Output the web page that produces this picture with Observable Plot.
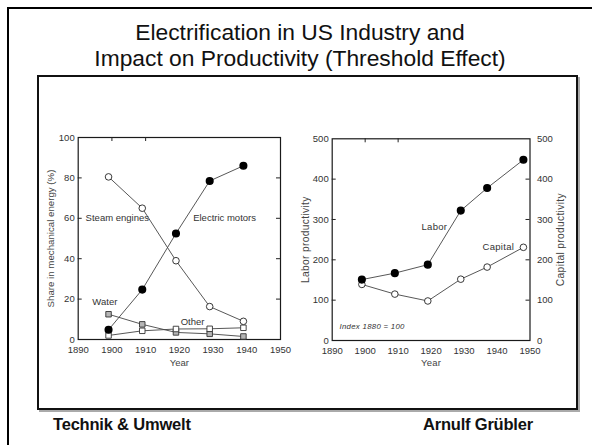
<!DOCTYPE html>
<html>
<head>
<meta charset="utf-8">
<script src="https://cdn.jsdelivr.net/npm/d3@7"></script>
<script src="https://cdn.jsdelivr.net/npm/@observablehq/plot@0.6"></script>
<style>
  body { margin: 0; background: #fff; }
  #page { position: relative; width: 592px; height: 445px; overflow: hidden; background: #fff;
          font-family: "Liberation Sans", Arial, sans-serif; color: #111; }
  .abs { position: absolute; }
  .title { left: 0; width: 600px; text-align: center; font-size: 22.8px; line-height: 26px; white-space: nowrap; }
  .foot { font-size: 16.5px; font-weight: bold; line-height: 18px; white-space: nowrap; letter-spacing: -0.2px; }
  #right svg g[aria-label="text"] text { letter-spacing: 0.3px; }
</style>
</head>
<body>
<div id="page">
  <div class="abs" style="left:7px;top:7px;width:700px;height:700px;border:2.5px solid #000;"></div>
  <div class="abs title" style="top:19px;">Electrification in US Industry and</div>
  <div class="abs title" style="top:45px;">Impact on Productivity (Threshold Effect)</div>
  <div class="abs" style="left:37px;top:75px;width:537px;height:331px;border:2px solid #111;box-shadow:2px 2px 0 #aaa;"></div>
  <div id="left" class="abs" style="left:40px;top:120px;"></div>
  <div id="right" class="abs" style="left:290px;top:120px;"></div>
  <div class="abs foot" style="left:53px;top:415px;">Technik &amp; Umwelt</div>
  <div class="abs foot" style="left:423px;top:415px;">Arnulf Grübler</div>
</div>
<script>
// ---- Left panel data: share in mechanical energy (%) ----
const years1 = [1899, 1909, 1919, 1929, 1939];
const steam = [80.5, 65, 39, 16.3, 9];
const electric = [4.8, 24.7, 52.5, 78.5, 86];
const water = [12.5, 7.5, 3.5, 2.8, 1.5];
const other = [2, 4.3, 5.2, 5.3, 5.8];
const xTicks = [1890, 1900, 1910, 1920, 1930, 1940, 1950];
const yTicks1 = [0, 20, 40, 60, 80, 100];
const innerTicks1 = [20, 40, 60, 80];
const topTicks = [1900, 1910];
const labels1 = [
  {text: "Steam engines", year: 1892.2, value: 60},
  {text: "Electric motors", year: 1924.1, value: 60},
  {text: "Water", year: 1894.2, value: 18.5},
  {text: "Other", year: 1920.4, value: 8.9}
];

// ---- Right panel data: productivity index (1880 = 100) ----
const years2 = [1899, 1909, 1919, 1929, 1937, 1948];
const labor = [151, 167, 188, 322, 378, 448];
const capital = [139, 115, 98, 152, 182, 231];
const yTicks2 = [0, 100, 200, 300, 400, 500];
const innerTicks2 = [100, 200, 300, 400];
const labels2 = [
  {text: "Labor", year: 1917.1, value: 282.6},
  {text: "Capital", year: 1935.6, value: 231}
];
const note2 = [{text: "Index 1880 = 100", year: 1892.2, value: 35.5}];

const toRows = (xs, ys) => xs.map((x, i) => ({x, y: ys[i]}));

const font = {fontFamily: "'Liberation Sans', Arial, sans-serif", fontSize: "9.5px", color: "#333", background: "transparent", overflow: "visible"};
const lineStyle = {stroke: "#444", strokeWidth: 0.9};
const frameStyle = {stroke: "#1a1a1a", strokeWidth: 1.2};

// Left
{
  const W = 260, H = 250, mL = 37.7, mR = 20, mT = 17, mB = 31;
  const pw = W - mL - mR, ph = H - mT - mB;
  const chart = Plot.plot({
    width: W, height: H, marginLeft: mL, marginRight: mR, marginTop: mT, marginBottom: mB,
    style: font,
    x: {domain: [1890, 1950]},
    y: {domain: [0, 100]},
    marks: [
      Plot.frame(frameStyle),
      Plot.axisX({ticks: xTicks, tickSize: 0, tickPadding: 6.5, tickFormat: d => String(d), label: null}),
      Plot.axisY({ticks: yTicks1, tickSize: 0, tickPadding: 3.5, label: null}),
      Plot.tickY(innerTicks1, {y: d => d, insetRight: pw - 4, stroke: "#222"}),
      Plot.tickY(innerTicks1, {y: d => d, insetLeft: pw - 4, stroke: "#222"}),
      Plot.tickX(topTicks, {x: d => d, insetBottom: ph - 4, stroke: "#222"}),
      Plot.text(["Share in mechanical energy (%)"], {frameAnchor: "left", textAnchor: "middle", dx: -27.7, rotate: -90, fill: "#444", fontSize: 9.7}),
      Plot.text(["Year"], {frameAnchor: "bottom", textAnchor: "middle", dy: 26, fill: "#444", fontSize: 9.5}),
      Plot.line(toRows(years1, steam), {x: "x", y: "y", ...lineStyle}),
      Plot.line(toRows(years1, electric), {x: "x", y: "y", ...lineStyle}),
      Plot.line(toRows(years1, water), {x: "x", y: "y", ...lineStyle}),
      Plot.line(toRows(years1, other), {x: "x", y: "y", ...lineStyle}),
      Plot.dot(toRows(years1, water), {x: "x", y: "y", symbol: "square", r: 3.1, fill: "#b5b5b5", stroke: "#333", strokeWidth: 0.9}),
      Plot.dot(toRows(years1, other), {x: "x", y: "y", symbol: "square", r: 3.1, fill: "#fff", stroke: "#333", strokeWidth: 0.9}),
      Plot.dot(toRows(years1, steam), {x: "x", y: "y", r: 3.3, fill: "#fff", stroke: "#222", strokeWidth: 0.9}),
      Plot.dot(toRows(years1, electric), {x: "x", y: "y", r: 3.3, fill: "#000", stroke: "#000"}),
      Plot.text(labels1, {x: "year", y: "value", text: "text", textAnchor: "start", fill: "#333", fontSize: 9.5})
    ]
  });
  document.getElementById("left").appendChild(chart);
}

// Right
{
  const W = 290, H = 250, mL = 41.7, mR = 50.5, mT = 18.3, mB = 30;
  const pw = W - mL - mR, ph = H - mT - mB;
  const chart = Plot.plot({
    width: W, height: H, marginLeft: mL, marginRight: mR, marginTop: mT, marginBottom: mB,
    style: font,
    x: {domain: [1890, 1950]},
    y: {domain: [0, 500]},
    marks: [
      Plot.frame(frameStyle),
      Plot.axisX({ticks: xTicks, tickSize: 0, tickPadding: 6.5, tickFormat: d => String(d), label: null}),
      Plot.axisY({ticks: yTicks2, tickSize: 0, tickPadding: 3.5, label: null}),
      Plot.axisY({anchor: "right", ticks: yTicks2, tickSize: 0, tickPadding: 7, label: null}),
      Plot.tickY(innerTicks2, {y: d => d, insetRight: pw - 4, stroke: "#222"}),
      Plot.tickY(innerTicks2, {y: d => d, insetLeft: pw - 4, stroke: "#222"}),
      Plot.tickX(topTicks, {x: d => d, insetBottom: ph - 4, stroke: "#222"}),
      Plot.text(["Labor productivity"], {frameAnchor: "left", textAnchor: "middle", dx: -26.7, rotate: -90, fill: "#444", fontSize: 10.3}),
      Plot.text(["Capital productivity"], {frameAnchor: "right", textAnchor: "middle", dx: 31.2, rotate: -90, fill: "#444", fontSize: 10.3}),
      Plot.text(["Year"], {frameAnchor: "bottom", textAnchor: "middle", dy: 25, fill: "#444", fontSize: 9.5}),
      Plot.line(toRows(years2, labor), {x: "x", y: "y", ...lineStyle}),
      Plot.line(toRows(years2, capital), {x: "x", y: "y", ...lineStyle}),
      Plot.dot(toRows(years2, capital), {x: "x", y: "y", r: 3.3, fill: "#fff", stroke: "#222", strokeWidth: 0.9}),
      Plot.dot(toRows(years2, labor), {x: "x", y: "y", r: 3.3, fill: "#000", stroke: "#000"}),
      Plot.text(labels2, {x: "year", y: "value", text: "text", textAnchor: "start", fill: "#333", fontSize: 9.5}),
      Plot.text(note2, {x: "year", y: "value", text: "text", textAnchor: "start", fill: "#333", fontSize: 7.8, fontStyle: "italic"})
    ]
  });
  document.getElementById("right").appendChild(chart);
}
</script>
</body>
</html>
